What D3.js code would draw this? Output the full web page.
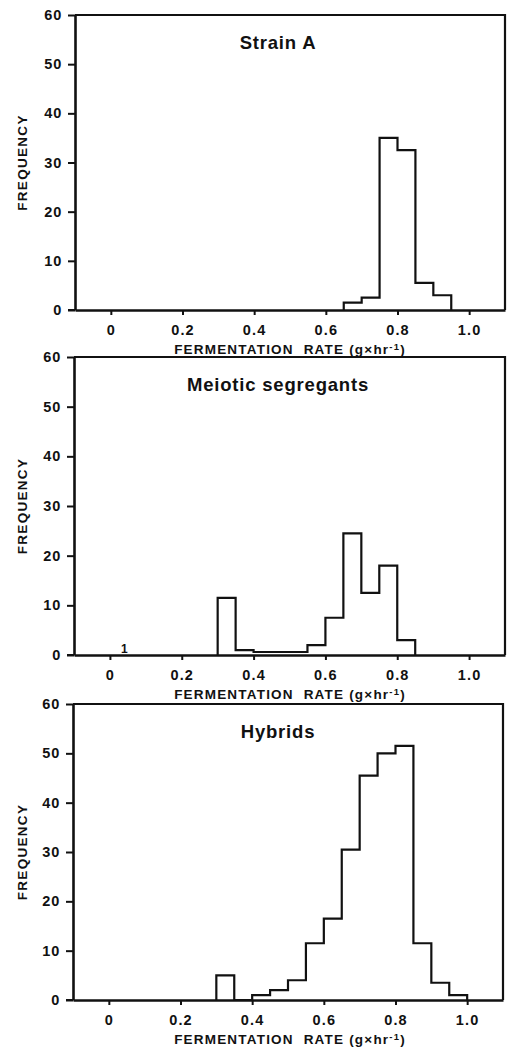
<!DOCTYPE html>
<html>
<head>
<meta charset="utf-8">
<script src="https://cdn.jsdelivr.net/npm/d3@7"></script>
<style>
  body { margin: 0; background: #fff; }
  svg text { font-family: "Liberation Sans", Arial, sans-serif; font-weight: bold; fill: #111; }
</style>
</head>
<body>
<div id="chart"></div>
<script>
// bin starts (width 0.05) shared by the three histograms
const binStarts = [0.30, 0.35, 0.40, 0.45, 0.50, 0.55, 0.60, 0.65, 0.70, 0.75, 0.80, 0.85, 0.90, 0.95]
const binWidth = 0.05

// frequencies
const strainA = [0, 0, 0, 0, 0, 0, 0, 1.5, 2.5, 35, 32.5, 5.5, 3, 0]
const meiotic = [11.5, 1, 0.6, 0.6, 0.6, 2, 7.5, 24.5, 12.5, 18, 3, 0, 0, 0]
const hybrids = [5, 0, 1, 2, 4, 11.5, 16.5, 30.5, 45.5, 50, 51.5, 11.5, 3.5, 1]

const panelTitles = ["Strain A", "Meiotic segregants", "Hybrids"]
const xTicks = [0, 0.2, 0.4, 0.6, 0.8, 1.0]
const yTicks = [0, 10, 20, 30, 40, 50, 60]

// the lone "1" written in the meiotic panel
const noteX = [0.04]
const noteText = ["1"]

const width = 507, height = 1050

const svg = d3.select("#chart")
  .append("svg")
    .attr("width", width)
    .attr("height", height)

// panel placement: top of frame (value 60) and zero line
const panels = [
  { series: strainA, top: 15, bottom: 310, left: 75, right: 505 },
  { series: meiotic, top: 357, bottom: 655, left: 74, right: 505 },
  { series: hybrids, top: 704, bottom: 1000, left: 73, right: 503 }
]

panels.forEach(function(p, i) {
    const x = d3.scaleLinear().domain([-0.1, 1.1]).range([p.left, p.right])
    const y = d3.scaleLinear().domain([0, 60]).range([p.bottom, p.top])

    const g = svg.append("g")

    // frame top and right
    g.append("path")
        .attr("d", `M${p.left},${p.top}H${p.right}V${p.bottom}`)
        .attr("fill", "none")
        .attr("stroke", "#111")
        .attr("stroke-width", 2.2)

    // y axis
    const yAxis = g.append("g")
        .attr("transform", `translate(${p.left},0)`)
        .call(d3.axisLeft(y).tickValues(yTicks).tickSize(7).tickSizeOuter(0).tickPadding(6))
    yAxis.select(".domain").attr("stroke", "#111").attr("stroke-width", 2.6)
    yAxis.selectAll(".tick line").attr("stroke", "#111").attr("stroke-width", 2)
    yAxis.selectAll(".tick text")
        .attr("font-size", 14.5)
        .attr("letter-spacing", 0.8)
        .attr("fill", "#111")
        .attr("font-family", null)

    // x axis
    const xAxis = g.append("g")
        .attr("transform", `translate(0,${p.bottom})`)
        .call(d3.axisBottom(x).tickValues(xTicks).tickSize(5).tickSizeOuter(0).tickPadding(10)
            .tickFormat(function(d) { return d === 0 ? "0" : d.toFixed(1) }))
    xAxis.select(".domain").attr("stroke", "#111").attr("stroke-width", 2.4)
    xAxis.selectAll(".tick line").attr("stroke", "#111").attr("stroke-width", 2)
    xAxis.selectAll(".tick text")
        .attr("font-size", 14.5)
        .attr("letter-spacing", 1.2)
        .attr("fill", "#111")
        .attr("font-family", null)

    // extend baseline to the left y tick
    g.append("line")
        .attr("x1", p.left - 7).attr("x2", p.left)
        .attr("y1", y(0)).attr("y2", y(0))
        .attr("stroke", "#111").attr("stroke-width", 2)

    // histogram outline as steps
    let first = p.series.findIndex(function(v) { return v > 0 })
    let last = p.series.length - 1
    while (last > 0 && p.series[last] === 0) last--
    const pts = [[binStarts[first], 0]]
    for (let k = first; k <= last; k++) {
        pts.push([binStarts[k], p.series[k]])
        pts.push([binStarts[k] + binWidth, p.series[k]])
    }
    pts.push([binStarts[last] + binWidth, 0])

    g.append("path")
        .datum(pts)
        .attr("fill", "none")
        .attr("stroke", "#111")
        .attr("stroke-width", 2.2)
        .attr("stroke-linejoin", "miter")
        .attr("d", d3.line()
            .x(function(d) { return x(d[0]) })
            .y(function(d) { return y(d[1]) }))

    // panel title
    g.append("text")
        .attr("x", 278)
        .attr("y", p.top + 34)
        .attr("text-anchor", "middle")
        .attr("font-size", 18.5)
        .attr("letter-spacing", 0.8)
        .text(panelTitles[i])

    // y axis title
    g.append("text")
        .attr("transform", `translate(27,${(p.top + p.bottom) / 2}) rotate(-90)`)
        .attr("text-anchor", "middle")
        .attr("font-size", 13.5)
        .attr("letter-spacing", 1.3)
        .text("FREQUENCY")

    // x axis title
    const xt = g.append("text")
        .attr("x", 290)
        .attr("y", p.bottom + 44)
        .attr("text-anchor", "middle")
        .attr("font-size", 13.5)
        .attr("letter-spacing", 1.2)
    xt.append("tspan").text("FERMENTATION\u00a0 RATE (g\u00d7hr")
    xt.append("tspan").attr("dy", -4).attr("font-size", 9.5).text("-1")
    xt.append("tspan").attr("dy", 4).text(")")

    if (i === 1) {
        g.selectAll(".note")
            .data(noteX)
            .enter().append("text")
            .attr("x", function(d) { return x(d) })
            .attr("y", y(0) - 2)
            .attr("text-anchor", "middle")
            .attr("font-size", 12)
            .text(function(d, j) { return noteText[j] })
    }
})
</script>
</body>
</html>
